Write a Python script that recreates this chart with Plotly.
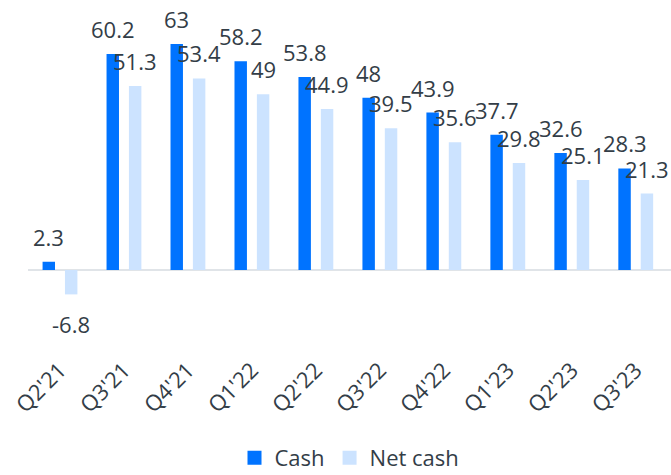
import plotly.graph_objects as go

quarters = ["Q2'21", "Q3'21", "Q4'21", "Q1'22", "Q2'22", "Q3'22", "Q4'22", "Q1'23", "Q2'23", "Q3'23"]
cash = [2.3, 60.2, 63, 58.2, 53.8, 48, 43.9, 37.7, 32.6, 28.3]
net_cash = [-6.8, 51.3, 53.4, 49, 44.9, 39.5, 35.6, 29.8, 25.1, 21.3]

CASH_COLOR = "#0073ff"
NET_COLOR = "#cce3ff"
TEXT_COLOR = "#333d47"
FONT = "Open Sans"

fig = go.Figure()
fig.add_trace(go.Bar(name="Cash", x=quarters, y=cash, marker_color=CASH_COLOR, marker_line_width=0,
                     showlegend=False))
fig.add_trace(go.Bar(name="Net cash", x=quarters, y=net_cash, marker_color=NET_COLOR, marker_line_width=0,
                     showlegend=False))
# legend entries with square symbols
for name, col in (("Cash", CASH_COLOR), ("Net cash", NET_COLOR)):
    fig.add_trace(go.Scatter(name=name, x=[None], y=[None], mode="markers",
                             marker=dict(symbol="square", size=14, color=col)))

annotations = []
for series, xs in ((cash, -11.25), (net_cash, 11.25)):
    for q, v in zip(quarters, series):
        annotations.append(dict(
            x=q, y=v, xref="x", yref="y", text=f"{v:g}", showarrow=False,
            xshift=xs, yshift=25 if v >= 0 else -30, yanchor="middle", xanchor="center",
            font=dict(family=FONT, size=22, color=TEXT_COLOR),
        ))

fig.update_layout(
    width=671, height=475,
    margin=dict(l=28, r=0, t=10, b=123, autoexpand=False),
    paper_bgcolor="white", plot_bgcolor="white",
    barmode="group", bargap=0.30, bargroupgap=0.444,
    font=dict(family=FONT, size=22, color=TEXT_COLOR),
    showlegend=True,
    legend=dict(orientation="h", x=0.5, xanchor="center", yref="container", y=0.036, yanchor="middle",
                font=dict(family=FONT, size=22, color=TEXT_COLOR), itemwidth=30),
    annotations=annotations,
)
fig.update_xaxes(tickangle=-45, showgrid=False, showline=False, ticks="", automargin=False,
                 tickfont=dict(family=FONT, size=22, color=TEXT_COLOR))
fig.update_yaxes(range=[-22.86, 72.48], showgrid=False, showticklabels=False, zeroline=True, automargin=False,
                 zerolinecolor="#e0e4e8", zerolinewidth=1.5, showline=False)

fig.write_html("out.html", config={"displayModeBar": False})

# remove default page margins so the 671x475 figure fills the window exactly
with open("out.html", encoding="utf-8") as f:
    html = f.read()
html = html.replace("<head>", "<head><style>html,body{margin:0;padding:0;overflow:hidden;}</style>", 1)
with open("out.html", "w", encoding="utf-8") as f:
    f.write(html)
